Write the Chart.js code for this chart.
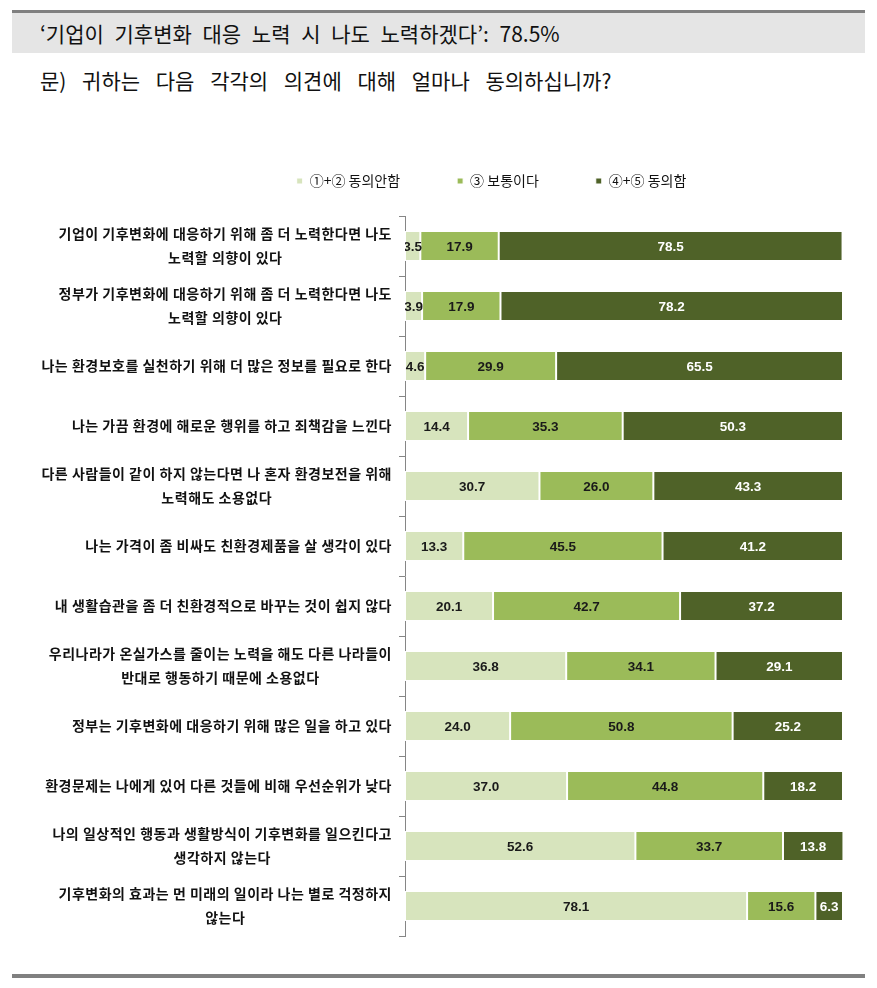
<!DOCTYPE html>
<html>
<head>
<meta charset="utf-8">
<script src="https://cdn.jsdelivr.net/npm/chart.js@4/dist/chart.umd.min.js"></script>
<style>
body { margin: 0; background: #fff; width: 877px; height: 988px; position: relative; overflow: hidden; font-family: "Noto Sans CJK KR", sans-serif; }
.topline { position: absolute; left: 12px; top: 10px; width: 853px; height: 3px; background: #808080; }
.head { position: absolute; left: 12px; top: 13px; width: 853px; height: 40px; background: #e5e5e5; }
.head span { position: absolute; left: 28px; top: 0; line-height: 40px; font-size: 21px; color: #111; word-spacing: 6px; white-space: nowrap; }
.question { position: absolute; left: 40px; top: 64px; line-height: 32px; font-size: 21px; color: #111; word-spacing: 11px; white-space: nowrap; }
.bottomline { position: absolute; left: 12px; top: 974px; width: 853px; height: 4px; background: #808080; }
#wrap { position: absolute; left: 0; top: 110px; width: 877px; height: 840px; }
</style>
</head>
<body>
<div class="topline"></div>
<div class="head"><span>‘기업이 기후변화 대응 노력 시 나도 노력하겠다’: 78.5%</span></div>
<div class="question">문) 귀하는 다음 각각의 의견에 대해 얼마나 동의하십니까?</div>
<div id="wrap"><canvas id="chart"></canvas></div>
<div class="bottomline"></div>
<script>
var categories = [
    ['기업이 기후변화에 대응하기 위해 좀 더 노력한다면 나도', '노력할 의향이 있다'],
    ['정부가 기후변화에 대응하기 위해 좀 더 노력한다면 나도', '노력할 의향이 있다'],
    ['나는 환경보호를 실천하기 위해 더 많은 정보를 필요로 한다'],
    ['나는 가끔 환경에 해로운 행위를 하고 죄책감을 느낀다'],
    ['다른 사람들이 같이 하지 않는다면 나 혼자 환경보전을 위해', '노력해도 소용없다'],
    ['나는 가격이 좀 비싸도 친환경제품을 살 생각이 있다'],
    ['내 생활습관을 좀 더 친환경적으로 바꾸는 것이 쉽지 않다'],
    ['우리나라가 온실가스를 줄이는 노력을 해도 다른 나라들이', '반대로 행동하기 때문에 소용없다'],
    ['정부는 기후변화에 대응하기 위해 많은 일을 하고 있다'],
    ['환경문제는 나에게 있어 다른 것들에 비해 우선순위가 낮다'],
    ['나의 일상적인 행동과 생활방식이 기후변화를 일으킨다고', '생각하지 않는다'],
    ['기후변화의 효과는 먼 미래의 일이라 나는 별로 걱정하지', '않는다']
];
var seriesNames = ['①+② 동의안함', '③ 보통이다', '④+⑤ 동의함'];
var disagree = [3.5, 3.9, 4.6, 14.4, 30.7, 13.3, 20.1, 36.8, 24.0, 37.0, 52.6, 78.1];
var neutral = [17.9, 17.9, 29.9, 35.3, 26.0, 45.5, 42.7, 34.1, 50.8, 44.8, 33.7, 15.6];
var agree = [78.5, 78.2, 65.5, 50.3, 43.3, 41.2, 37.2, 29.1, 25.2, 18.2, 13.8, 6.3];

var colors = ['#d7e4bd', '#9bbb59', '#4f6228'];
var labelColors = ['#1a1a1a', '#1a1a1a', '#ffffff'];

// bar values + category text drawn on the canvas
var labelPlugin = {
    id: 'labelPlugin',
    afterDatasetsDraw: function(chart) {
        var ctx = chart.ctx;
        var area = chart.chartArea;
        ctx.save();
        ctx.beginPath();
        ctx.rect(area.left, area.top, area.right - area.left, area.bottom - area.top);
        ctx.clip();
        ctx.font = 'bold 13.5px "Liberation Sans", Arial, sans-serif';
        ctx.textAlign = 'center';
        ctx.textBaseline = 'middle';
        chart.data.datasets.forEach(function(ds, di) {
            chart.getDatasetMeta(di).data.forEach(function(bar, i) {
                var p = bar.getProps(['x', 'y', 'base'], true);
                ctx.fillStyle = labelColors[di];
                ctx.fillText(ds.data[i].toFixed(1), (p.x + p.base) / 2, p.y + 1);
            });
        });
        ctx.restore();

        var yScale = chart.scales.y;
        ctx.save();
        ctx.font = 'bold 14px "Noto Sans CJK KR", sans-serif';
        if ('letterSpacing' in ctx) ctx.letterSpacing = '0.5px';
        ctx.fillStyle = '#111';
        ctx.textAlign = 'left';
        ctx.textBaseline = 'middle';
        var right = area.left - 13;
        categories.forEach(function(lines, i) {
            var yc = yScale.getPixelForValue(i);
            var widths = lines.map(function(t) { return ctx.measureText(t).width; });
            var maxW = Math.max.apply(null, widths);
            var cx = right - maxW / 2;
            var y0 = yc - (lines.length - 1) * 12;
            lines.forEach(function(t, k) { ctx.fillText(t, cx - widths[k] / 2, y0 + k * 24); });
        });
        ctx.restore();
    }
};

// extra room under the legend
var legendGap = {
    id: 'legendGap',
    beforeInit: function(chart) {
        var fit = chart.legend.fit;
        chart.legend.fit = function() {
            fit.bind(chart.legend)();
            this.height += 18;
        };
    }
};

var ctx = document.getElementById('chart').getContext('2d');
var chart = new Chart(ctx, {
    type: 'bar',
    data: {
        labels: categories,
        datasets: [
            { label: seriesNames[0], data: disagree, backgroundColor: colors[0] },
            { label: seriesNames[1], data: neutral, backgroundColor: colors[1] },
            { label: seriesNames[2], data: agree, backgroundColor: colors[2] }
        ]
    },
    options: {
        indexAxis: 'y',
        responsive: true,
        maintainAspectRatio: false,
        animation: false,
        layout: { padding: { left: 140, right: 34, top: 7, bottom: 14 } },
        datasets: {
            bar: { barPercentage: 0.5, categoryPercentage: 1, borderColor: '#ffffff', borderWidth: 1, borderSkipped: false }
        },
        scales: {
            x: { stacked: true, min: 0, max: 100, display: false },
            y: {
                stacked: true,
                afterFit: function(scale) { scale.width = 265; },
                ticks: { display: false },
                grid: { drawOnChartArea: false, drawTicks: true, tickLength: 6, color: '#868686', offset: true },
                border: { display: true, color: '#868686', width: 1 }
            }
        },
        plugins: {
            legend: {
                position: 'top',
                labels: {
                    boxWidth: 6,
                    boxHeight: 6,
                    padding: 57,
                    color: '#111',
                    font: { family: '"Noto Sans CJK KR", sans-serif', size: 14 }
                }
            },
            tooltip: { enabled: false }
        }
    },
    plugins: [labelPlugin, legendGap]
});
</script>
</body>
</html>
